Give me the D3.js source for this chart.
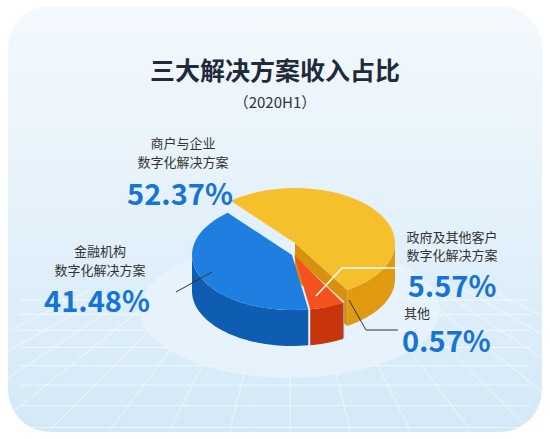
<!DOCTYPE html><html><head><meta charset="utf-8"><script src="https://cdn.jsdelivr.net/npm/d3@7"></script>
<style>body{margin:0;background:#fff}</style></head><body><svg id="c" width="550" height="439"></svg>
<script>
const categories=["商户与企业数字化解决方案","其他","政府及其他客户数字化解决方案","金融机构数字化解决方案"];
const values=[52.37,0.57,5.57,41.48];
const topColors=["#f6bf2c","#d4d6da","#f4511e","#1e7fe0"];
const sideColors=["#e09a12","#9a9ea5","#c8350c","#0f5cb3"];
const svg=d3.select("#c");
const defs=svg.append("defs");
const g=defs.append("linearGradient").attr("id","bg").attr("x1",0).attr("y1",0).attr("x2",0).attr("y2",1);
g.append("stop").attr("offset","0").attr("stop-color","#f4f9fd");
g.append("stop").attr("offset","1").attr("stop-color","#d3e9f7");
svg.append("rect").attr("x",8).attr("y",6).attr("width",534).attr("height",426).attr("rx",42).attr("fill","url(#bg)");
const grid=svg.append("g").attr("stroke","#fff").attr("stroke-opacity",0.6);
for(let i=0;i<10;i++){grid.append("line").attr("x1",20).attr("x2",530).attr("y1",300+i*14+i*i*0.6).attr("y2",300+i*14+i*i*0.6);}
for(let i=-8;i<=8;i++){grid.append("line").attr("x1",290+i*25).attr("y1",290).attr("x2",290+i*60).attr("y2",430);}
svg.append("ellipse").attr("cx",290).attr("cy",310).attr("rx",150).attr("ry",68).attr("fill","#e8f4fc").attr("opacity",0.8);
svg.append("text").attr("x",275).attr("y",80).attr("text-anchor","middle").attr("font-size",25).attr("font-weight","bold").attr("fill","#1f2a3a").attr("font-family","Noto Sans CJK SC").text("三大解决方案收入占比");
svg.append("text").attr("x",275).attr("y",108).attr("text-anchor","middle").attr("font-size",15).attr("fill","#333").attr("font-family","Noto Sans CJK SC").text("（2020H1）");
const cx=292,cy=255,rx=100,ry=55,depth=36;
const pie=d3.pie().sort(null).startAngle(-40*Math.PI/180).endAngle(320*Math.PI/180)(values);
const off=[[3,-12],[0,0],[2,0],[0,0]];
function P(a,z,o){return [cx+o[0]+rx*Math.sin(a), cy+o[1]-ry*Math.cos(a)+z];}
function topPath(d,o){const p=d3.path();const c=[cx+o[0],cy+o[1]];p.moveTo(...c);const n=40;for(let i=0;i<=n;i++){const a=d.startAngle+(d.endAngle-d.startAngle)*i/n;p.lineTo(...P(a,0,o));}p.closePath();return p.toString();}
function sidePath(d,o){const a1=Math.max(d.startAngle,Math.PI/2),a2=Math.min(d.endAngle,3*Math.PI/2);if(a2<=a1)return null;const p=d3.path();const n=40;for(let i=0;i<=n;i++){const a=a1+(a2-a1)*i/n;const q=P(a,0,o);i?p.lineTo(...q):p.moveTo(...q);}for(let i=n;i>=0;i--){const a=a1+(a2-a1)*i/n;p.lineTo(...P(a,depth,o));}p.closePath();return p.toString();}
function wall(a,o){const p=d3.path();const c=[cx+o[0],cy+o[1]];p.moveTo(...c);p.lineTo(...P(a,0,o));p.lineTo(...P(a,depth,o));p.lineTo(c[0],c[1]+depth);p.closePath();return p.toString();}
const L=svg.append("g");
[0,1,2,3].forEach(i=>{const d=pie[i],o=off[i];
 if(i===0){L.append("path").attr("d",wall(d.endAngle,o)).attr("fill","#d89010");}
 const s=sidePath(d,o);if(s)L.append("path").attr("d",s).attr("fill",sideColors[i]);
 L.append("path").attr("d",topPath(d,o)).attr("fill",topColors[i]).attr("stroke",i===1?"#fff":"none").attr("stroke-width",0.8);
});
const T=svg.append("g").attr("font-family","Noto Sans CJK SC");
function lbl(x,y,txt,size,col,anchor,w){T.append("text").attr("x",x).attr("y",y).attr("text-anchor",anchor).attr("font-size",size).attr("fill",col).attr("font-weight",w||"normal").text(txt);}
const pct=values.map(v=>v.toFixed(2)+"%");
lbl(183,148,"商户与企业",13,"#333","middle");lbl(183,167,"数字化解决方案",13,"#333","middle");lbl(180,205,pct[0],29,"#1773d8","middle","bold");
lbl(100,256,"金融机构",13,"#333","middle");lbl(100,275,"数字化解决方案",13,"#333","middle");lbl(97,312,pct[3],29,"#1773d8","middle","bold");
lbl(452,242,"政府及其他客户",13,"#333","middle");lbl(452,260,"数字化解决方案",13,"#333","middle");lbl(452,297,pct[2],29,"#1773d8","middle","bold");
lbl(404,318,"其他",13,"#333","start");lbl(402,352,pct[1],29,"#1773d8","start","bold");
svg.append("polyline").attr("points","176,292 212,272").attr("stroke","#333").attr("fill","none");
svg.append("polyline").attr("points","316,296 342,268 400,268").attr("stroke","#fff").attr("stroke-width",1.5).attr("fill","none");
svg.append("polyline").attr("points","349,300 366,330 398,330").attr("stroke","#333").attr("fill","none");
</script></body></html>
